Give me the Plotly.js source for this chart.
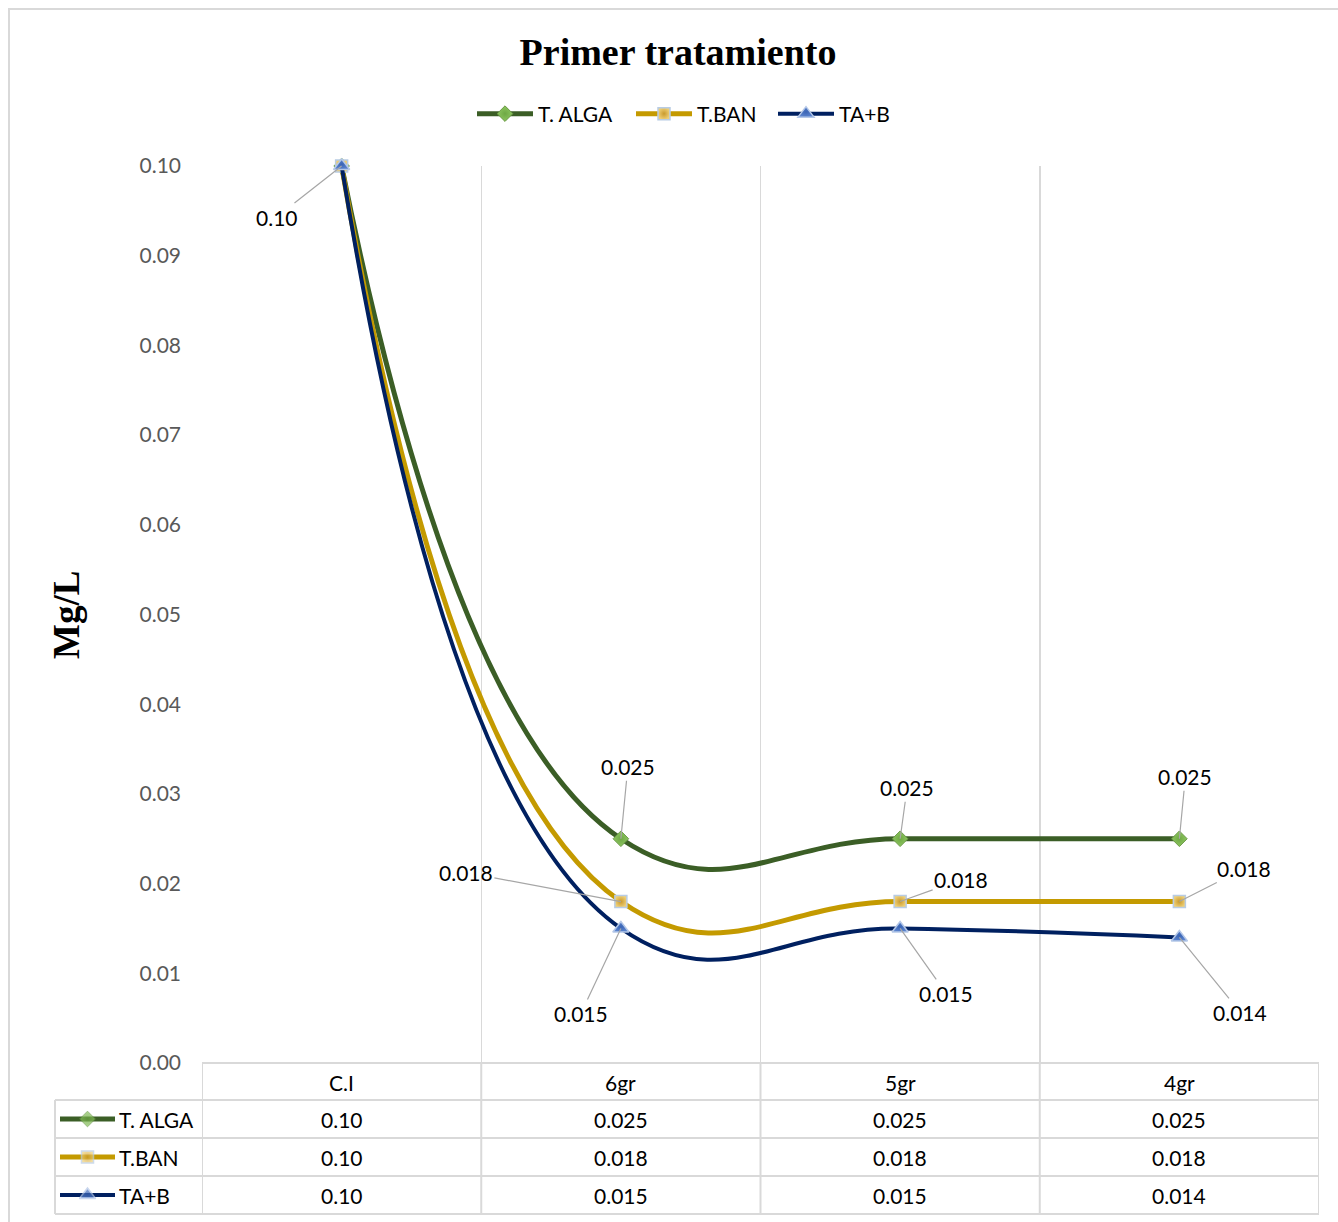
<!DOCTYPE html>
<html>
<head>
<meta charset="utf-8">
<script src="https://cdn.plot.ly/plotly-3.0.1.min.js"></script>
<style>
  html, body { margin: 0; padding: 0; background: #fff; overflow: hidden; }
  #wrap { position: relative; width: 1338px; height: 1222px; }
  #chart { position: absolute; left: 0; top: 0; width: 1338px; height: 1222px; }
  #frame { position: absolute; left: 8px; top: 8px; width: 1400px; height: 1300px;
           border: 2px solid #d9d9d9; pointer-events: none; }
</style>
</head>
<body>
<div id="wrap">
  <div id="chart"></div>
  <div id="frame"></div>
</div>
<script>
// ---- data ----
const categories = ['C.I', '6gr', '5gr', '4gr'];
const seriesNames = ['T. ALGA', 'T.BAN', 'TA+B'];
const algaValues = [0.10, 0.025, 0.025, 0.025];
const banValues = [0.10, 0.018, 0.018, 0.018];
const tabValues = [0.10, 0.015, 0.015, 0.014];
const yTickValues = [0, 0.01, 0.02, 0.03, 0.04, 0.05, 0.06, 0.07, 0.08, 0.09, 0.10];

// ---- styling ----
const W = 1338, H = 1222;
const px = x => x / W;            // figure pixel -> paper x
const py = y => 1 - y / H;        // figure pixel -> paper y
const FONT = 'Lato, "Open Sans", sans-serif';
const SERIF = '"Liberation Serif", "Times New Roman", serif';
const GRID = '#d9d9d9';

const styles = [
  { line: '#3b5e26', width: 5, symbol: 'diamond', size: 12, fill: '#8cc65f', grad: '#6fa845', edge: '#6b9a47', edgeW: 1 },
  { line: '#c49a00', width: 5, symbol: 'square', size: 12, fill: '#efcf75', grad: '#c99a2e', edge: '#b8cce4', edgeW: 1.5 },
  { line: '#002060', width: 4, symbol: 'triangle-up', size: 14, fill: '#5b84cf', grad: '#3a64b4', edge: '#b4c7e7', edgeW: 1.5 }
];
const seriesValues = [algaValues, banValues, tabValues];
const xIdx = categories.map((c, i) => i);
const legendIds = ['legend', 'legend2', 'legend3'];
const legendLeft = [477, 636, 778];   // pixel x where each legend entry starts

// label placement (pixel offsets of each data label from its point)
const labelOffsets = [
  [[-65, 51], [7, -72], [7, -51], [6, -62]],
  [null, [-155, -29], [61, -22], [65, -33]],
  [null, [-40, 85], [46, 65], [61, 75]]
];

const fmt = v => (Math.abs(v * 100 - Math.round(v * 100)) < 1e-9 ? v.toFixed(2) : v.toFixed(3));

const markerOf = (st, sizes, widths) => ({
  symbol: st.symbol, size: sizes || st.size, color: st.fill,
  gradient: { type: 'radial', color: st.grad },
  line: { color: st.edge, width: widths || st.edgeW }
});

const traces = [];
seriesValues.forEach((vals, s) => {
  const st = styles[s];
  traces.push({
    type: 'scatter', mode: 'lines+markers', name: seriesNames[s], legend: legendIds[s],
    x: xIdx, y: vals,
    line: { color: st.line, width: st.width, shape: 'spline', smoothing: 1.3 },
    marker: markerOf(st),
    hoverinfo: 'skip', cliponaxis: false
  });
});

// legend keys inside the data table's first column
seriesValues.forEach((vals, s) => {
  const st = styles[s];
  traces.push({
    type: 'scatter', mode: 'lines+markers', showlegend: false, xaxis: 'x2', yaxis: 'y2',
    x: [0, 0.5, 1], y: [s, s, s],
    line: { color: st.line, width: st.width },
    marker: markerOf(st, [0, st.size, 0], [0, st.edgeW, 0]),
    hoverinfo: 'skip', cliponaxis: false
  });
});

const annotations = [];
// data labels with leader lines
seriesValues.forEach((vals, s) => {
  vals.forEach((v, i) => {
    const off = labelOffsets[s][i];
    if (!off) return;
    annotations.push({
      x: i, y: v, xref: 'x', yref: 'y', text: fmt(v),
      showarrow: true, arrowhead: 0, arrowwidth: 1.2, arrowcolor: '#a6a6a6',
      ax: off[0], ay: off[1], standoff: 0,
      font: { family: FONT, size: 21, color: '#000' }
    });
  });
});

// y-axis title
annotations.push({
  xref: 'paper', yref: 'paper', x: px(66), y: py(615), xanchor: 'center', yanchor: 'middle',
  text: '<b>Mg/L</b>', textangle: -90,
  showarrow: false, font: { family: SERIF, size: 37, color: '#000' }
});

// data table: header row and value rows
const headerY = 1082, rowY = [1119, 1157, 1195];
const cellFont = { family: FONT, size: 21, color: '#000' };
categories.forEach((c, i) => {
  annotations.push({ x: i, y: py(headerY), xref: 'x', yref: 'paper', xanchor: 'center', yanchor: 'middle',
    text: c, showarrow: false, font: cellFont });
  seriesValues.forEach((vals, s) => {
    annotations.push({ x: i, y: py(rowY[s]), xref: 'x', yref: 'paper', xanchor: 'center', yanchor: 'middle',
      text: fmt(vals[i]), showarrow: false, font: cellFont });
  });
});
seriesNames.forEach((n, s) => {
  annotations.push({ x: px(117), y: py(rowY[s]), xref: 'paper', yref: 'paper', xanchor: 'left', yanchor: 'middle',
    text: n, showarrow: false, font: cellFont });
});

// table grid lines
const shapes = [];
const tableTop = 1063, tableBottom = 1214;
[-0.5, 0.5, 1.5, 2.5, 3.5].forEach(xb => {
  shapes.push({ type: 'line', xref: 'x', yref: 'paper', x0: xb, x1: xb, y0: py(tableTop), y1: py(tableBottom),
    line: { color: GRID, width: 2 } });
});
shapes.push({ type: 'line', xref: 'x', yref: 'paper', x0: -0.5, x1: 3.5, y0: py(tableTop), y1: py(tableTop),
  line: { color: GRID, width: 2 } });
[1100, 1138, 1176, 1214].forEach(yb => {
  shapes.push({ type: 'line', xref: 'paper', yref: 'paper', x0: px(55), x1: px(1319), y0: py(yb), y1: py(yb),
    line: { color: GRID, width: 2 } });
});
shapes.push({ type: 'line', xref: 'paper', yref: 'paper', x0: px(55), x1: px(55), y0: py(1100), y1: py(1214),
  line: { color: GRID, width: 2 } });

const legendBase = {
  orientation: 'h', y: py(114), xanchor: 'left', yanchor: 'middle',
  font: { family: FONT, size: 21, color: '#000' }, itemwidth: 56, bgcolor: 'rgba(0,0,0,0)', borderwidth: 0
};

const layout = {
  width: W, height: H,
  margin: { l: 0, r: 0, t: 0, b: 0 },
  paper_bgcolor: '#fff', plot_bgcolor: '#fff',
  title: { text: '<b>Primer tratamiento</b>', x: px(678), y: py(52), xref: 'paper', yref: 'paper',
    xanchor: 'center', yanchor: 'middle', font: { family: SERIF, size: 38, color: '#000' } },
  showlegend: true,
  xaxis: {
    domain: [px(202), px(1319)], range: [-0.5, 3.5],
    tickvals: [-0.5, 0.5, 1.5, 2.5, 3.5], showticklabels: false, ticks: '',
    showgrid: true, gridcolor: GRID, gridwidth: 1.5, zeroline: false, showline: false, fixedrange: true
  },
  yaxis: {
    domain: [py(1063), py(166)], range: [0, 0.1],
    tickvals: yTickValues, tickformat: '.2f', ticks: '', ticklabelstandoff: 20,
    tickfont: { family: FONT, size: 21, color: '#595959' },
    showgrid: false, zeroline: false, showline: false, fixedrange: true
  },
  xaxis2: { domain: [px(60), px(115)], range: [0, 1], visible: false, fixedrange: true, anchor: 'y2' },
  yaxis2: { domain: [py(1214), py(1100)], range: [2.5, -0.5], visible: false, fixedrange: true, anchor: 'x2' },
  annotations: annotations,
  shapes: shapes
};
legendIds.forEach((id, s) => {
  layout[id] = Object.assign({}, legendBase, { x: px(legendLeft[s] - 5) });
});

Plotly.newPlot('chart', traces, layout, { displayModeBar: false, staticPlot: true });
</script>
</body>
</html>
